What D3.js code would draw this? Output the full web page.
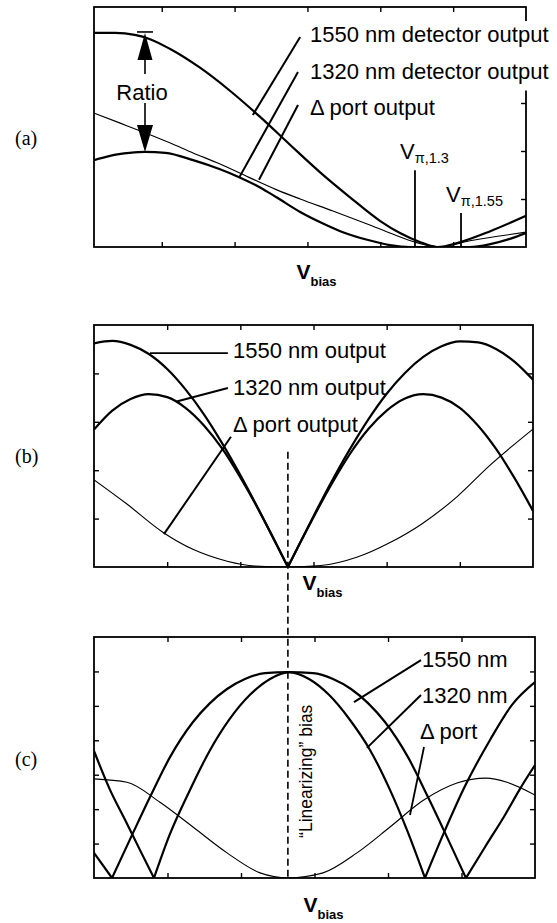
<!DOCTYPE html>
<html>
<head>
<meta charset="utf-8">
<script src="https://cdn.jsdelivr.net/npm/d3@7"></script>
<style>
  body { margin: 0; background: #fff; }
  svg { display: block; }
</style>
</head>
<body>
<div id="fig"></div>
<script>
// ---- values (x = V_bias, arbitrary units; y = output, arbitrary units)
const xTicks = [1, 2, 3, 4, 5];
const yTicksA = [1, 2, 3, 4];
const yTicksB = [1, 2, 3, 4];
const yTicksC = [1, 2, 3, 4, 5, 6];

// (a) detector outputs near the first null
const a1550 = [[0.07,4.46],[0.36,4.46],[0.63,4.42],[0.84,4.33],[1.11,4.13],[1.53,3.73],[1.94,3.25],[2.35,2.71],[2.76,2.13],[3.17,1.56],[3.58,1.04],[4.0,0.54],[4.27,0.29],[4.55,0.10],[4.78,0],[5.09,0.10],[5.51,0.33],[6.0,0.65]];
const a1320 = [[0.07,1.81],[0.29,1.90],[0.56,1.96],[0.77,1.98],[1.05,1.96],[1.43,1.81],[1.8,1.62],[2.07,1.45],[2.35,1.24],[2.58,1.03],[2.9,0.73],[3.17,0.52],[3.45,0.33],[3.82,0.15],[4.13,0.04],[4.41,0],[4.82,0],[5.23,0],[5.51,0.06],[5.78,0.17],[6.0,0.29]];
const aDelta = [[0.07,2.79],[0.43,2.58],[0.77,2.38],[1.11,2.17],[1.43,1.96],[1.8,1.73],[2.07,1.54],[2.58,1.19],[2.9,1.0],[3.35,0.75],[3.82,0.48],[4.17,0.27],[4.48,0.10],[4.82,0],[5.23,0.13],[5.64,0.23],[6.0,0.31]];

// (b) outputs with a common null
const b1550 = [
  [[0,4.62],[0.25,4.67],[0.5,4.59],[0.75,4.40],[1,4.09],[1.25,3.67],[1.5,3.16],[1.75,2.56],[2,1.90],[2.25,1.19],[2.5,0.45],[2.65,0]],
  [[2.65,0],[2.8,0.45],[3,1.05],[3.25,1.77],[3.5,2.44],[3.75,3.05],[4,3.58],[4.25,4.01],[4.5,4.34],[4.75,4.56],[5,4.66],[5.25,4.64],[5.5,4.50],[5.75,4.24],[6,3.87]]
];
const b1320 = [
  [[0,2.84],[0.25,3.23],[0.5,3.47],[0.75,3.57],[1,3.51],[1.25,3.29],[1.5,2.93],[1.75,2.45],[2,1.85],[2.25,1.18],[2.5,0.45],[2.65,0]],
  [[2.65,0],[2.8,0.45],[3,1.03],[3.25,1.72],[3.5,2.34],[3.75,2.85],[4,3.23],[4.25,3.48],[4.5,3.57],[4.75,3.50],[5,3.29],[5.25,2.92],[5.5,2.43],[5.75,1.83],[6,1.16]]
];
const bDelta = [[0,1.80],[0.45,1.30],[0.94,0.72],[1.36,0.36],[1.82,0.12],[2.2,0.02],[2.65,0],[3.1,0.03],[3.59,0.2],[4.04,0.5],[4.49,0.9],[4.96,1.45],[5.41,2.1],[6,2.85]];

// (c) outputs at the "linearizing" bias
const c1550 = [
  [[0,0.73],[0.245,0]],
  [[0.245,0],[0.531,1.31],[0.762,2.35],[1.034,3.51],[1.347,4.53],[1.578,5.08],[1.81,5.49],[2.054,5.78],[2.327,5.95],[2.639,5.98],[2.98,5.95],[3.252,5.78],[3.497,5.49],[3.728,5.08],[3.959,4.53],[4.272,3.51],[4.544,2.35],[4.776,1.31],[5.061,0]],
  [[5.061,0],[5.32,0.90],[5.592,1.83],[5.796,2.59],[6,3.28]]
];
const c1320 = [
  [[0,3.69],[0.218,2.56],[0.422,1.69],[0.626,0.81],[0.816,0]],
  [[0.816,0],[1.034,1.28],[1.293,2.50],[1.565,3.66],[1.837,4.59],[2.122,5.32],[2.395,5.78],[2.653,5.98],[2.925,5.78],[3.197,5.32],[3.483,4.59],[3.755,3.72],[4.027,2.56],[4.259,1.39],[4.503,0]],
  [[4.503,0],[4.776,1.39],[5.048,2.67],[5.388,4.01],[5.687,5.03],[6,5.69]]
];
const cDelta = [[0,2.88],[0.449,2.78],[0.898,2.2],[1.347,1.48],[1.81,0.73],[2.259,0.15],[2.639,0],[3.116,0.15],[3.578,0.73],[4.027,1.48],[4.476,2.25],[4.939,2.76],[5.333,2.90],[5.619,2.78],[6,2.41]];

const labelsA = ["1550 nm detector output", "1320 nm detector output", "\u0394 port output"];
const labelsB = ["1550 nm output", "1320 nm output", "\u0394 port output"];
const labelsC = ["1550 nm", "1320 nm", "\u0394 port"];
const vpiLabels = ["\u03c0,1.3", "\u03c0,1.55"];

// ---- layout
const W = 557, H = 923;
const sans = "'Liberation Sans', Arial, Helvetica, sans-serif";
const serif = "'Liberation Serif', 'Times New Roman', serif";
const thick = 2.2, thin = 1.15;

const panels = [
  { id: "a", box: [94, 7, 526, 247], xDomain: [0.07, 6], yDomain: [0, 5], yTicks: yTicksA, leftTicks: false, labelY: 145, titleY: 279 },
  { id: "b", box: [94, 325, 533, 567], xDomain: [0, 6], yDomain: [0, 5], yTicks: yTicksB, leftTicks: true, labelY: 463, titleY: 590 },
  { id: "c", box: [94, 637, 535, 878], xDomain: [0, 6], yDomain: [0, 7], yTicks: yTicksC, leftTicks: true, labelY: 766, titleY: 912 }
];

const svg = d3.select("#fig").append("svg")
  .attr("width", W)
  .attr("height", H)
  .attr("font-family", sans);

function styleAxis(sel) {
  sel.select(".domain").remove();
  sel.selectAll(".tick line").attr("stroke", "#000").attr("stroke-width", 1.4);
}

function drawPanel(p, series) {
  const [x0, y0, x1, y1] = p.box;
  const x = d3.scaleLinear().domain(p.xDomain).range([x0, x1]);
  const y = d3.scaleLinear().domain(p.yDomain).range([y1, y0]);
  const g = svg.append("g").attr("class", "panel-" + p.id);

  g.append("clipPath").attr("id", "clip-" + p.id)
    .append("rect").attr("x", x0).attr("y", y0).attr("width", x1 - x0).attr("height", y1 - y0);

  // inward ticks
  g.append("g").attr("transform", `translate(0,${y1})`)
    .call(d3.axisBottom(x).tickValues(xTicks).tickSize(-5).tickFormat("")).call(styleAxis);
  g.append("g").attr("transform", `translate(0,${y0})`)
    .call(d3.axisTop(x).tickValues(xTicks).tickSize(-5).tickFormat("")).call(styleAxis);
  g.append("g").attr("transform", `translate(${x1},0)`)
    .call(d3.axisRight(y).tickValues(p.yTicks).tickSize(-5).tickFormat("")).call(styleAxis);
  if (p.leftTicks) {
    g.append("g").attr("transform", `translate(${x0},0)`)
      .call(d3.axisLeft(y).tickValues(p.yTicks).tickSize(-5).tickFormat("")).call(styleAxis);
  }

  const line = d3.line().x(d => x(d[0])).y(d => y(d[1])).curve(d3.curveMonotoneX);
  const curves = g.append("g").attr("clip-path", `url(#clip-${p.id})`);
  series.forEach(s => {
    s.segs.forEach(seg => {
      curves.append("path").datum(seg)
        .attr("d", line)
        .attr("fill", "none")
        .attr("stroke", "#000")
        .attr("stroke-width", s.w)
        .attr("stroke-linejoin", "round");
    });
  });

  g.append("rect")
    .attr("x", x0).attr("y", y0)
    .attr("width", x1 - x0).attr("height", y1 - y0)
    .attr("fill", "none").attr("stroke", "#000").attr("stroke-width", 1.8);

  // panel tag
  svg.append("text")
    .attr("x", 15).attr("y", p.labelY)
    .attr("font-family", serif).attr("font-size", 20)
    .text(`(${p.id})`);

  // axis title V_bias
  const t = svg.append("text")
    .attr("x", x(2.85)).attr("y", p.titleY)
    .attr("font-weight", "bold").attr("font-size", 21);
  t.append("tspan").text("V");
  t.append("tspan").attr("font-size", 13).attr("dy", 7).text("bias");

  return { g, x, y };
}

function leader(g, x, y, pts, w) {
  g.append("line")
    .attr("x1", x(pts[0][0])).attr("y1", y(pts[0][1]))
    .attr("x2", x(pts[1][0])).attr("y2", y(pts[1][1]))
    .attr("stroke", "#000").attr("stroke-width", w || 2);
}

function labels(g, x, y, texts, xs, ys) {
  return texts.map((txt, i) => g.append("text")
    .attr("x", x(xs[i])).attr("y", y(ys[i]))
    .attr("font-size", 22)
    .text(txt));
}

// ---------- (a)
const A = drawPanel(panels[0], [
  { segs: [a1550], w: thick },
  { segs: [a1320], w: thick },
  { segs: [aDelta], w: thin }
]);
{
  const { g, x, y } = A;
  // white patch behind the first two labels (covers the frame)
  const bg = g.append("rect").attr("fill", "#fff");
  const la = labels(g, x, y, labelsA, [3.035, 3.035, 3.035], [4.27, 3.51, 2.75]);
  const b0 = la[0].node().getBBox(), b1 = la[1].node().getBBox();
  bg.attr("x", b0.x - 3).attr("y", b0.y - 1)
    .attr("width", Math.max(b0.width, b1.width) + 8)
    .attr("height", b1.y + b1.height - b0.y + 8);

  leader(g, x, y, [[2.9, 4.375], [2.25, 2.75]]);
  leader(g, x, y, [[2.87, 3.646], [2.06, 1.44]]);
  leader(g, x, y, [[2.87, 2.958], [2.335, 1.40]]);

  // ratio arrow
  const rx = x(0.77), rTop = y(4.48), rBot = y(1.98), mid = (rTop + rBot) / 2;
  g.append("line").attr("x1", rx - 8).attr("x2", rx + 8).attr("y1", rTop).attr("y2", rTop)
    .attr("stroke", "#000").attr("stroke-width", 1.6);
  g.append("path").attr("d", `M${rx},${rTop + 1}L${rx - 7.5},${rTop + 28}L${rx + 7.5},${rTop + 28}Z`);
  g.append("path").attr("d", `M${rx},${rBot}L${rx - 8},${rBot - 27}L${rx + 8},${rBot - 27}Z`);
  g.append("line").attr("x1", rx).attr("x2", rx).attr("y1", rTop + 27).attr("y2", mid - 18)
    .attr("stroke", "#000").attr("stroke-width", 1.6);
  g.append("line").attr("x1", rx).attr("x2", rx).attr("y1", mid + 11).attr("y2", rBot - 26)
    .attr("stroke", "#000").attr("stroke-width", 1.6);
  g.append("text").attr("x", rx - 3).attr("y", mid + 8)
    .attr("text-anchor", "middle").attr("font-size", 22).text("Ratio");

  // V_pi markers
  const vpiX = [4.476, 5.108], vpiTop = [1.6, 0.71];
  vpiX.forEach((vx, i) => {
    g.append("line").attr("x1", x(vx)).attr("x2", x(vx))
      .attr("y1", y(vpiTop[i])).attr("y2", y(0))
      .attr("stroke", "#000").attr("stroke-width", 1.8);
    const t = g.append("text").attr("x", x(vx) - 15).attr("y", y(vpiTop[i]) - 11).attr("font-size", 22);
    t.append("tspan").text("V");
    t.append("tspan").attr("font-size", 14.5).attr("dy", 4).text(vpiLabels[i]);
  });
}

// ---------- (b)
const B = drawPanel(panels[1], [
  { segs: b1550, w: thick },
  { segs: b1320, w: thick },
  { segs: [bDelta], w: thin }
]);
{
  const { g, x, y } = B;
  labels(g, x, y, labelsB, [1.9, 1.9, 1.9], [4.32, 3.55, 2.79]);
  leader(g, x, y, [[0.765, 4.42], [1.83, 4.42]], 1.8);
  leader(g, x, y, [[1.13, 3.42], [1.83, 3.70]]);
  leader(g, x, y, [[0.956, 0.68], [1.872, 2.69]]);
}

// ---------- (c)
const C = drawPanel(panels[2], [
  { segs: c1550, w: thick },
  { segs: c1320, w: thick },
  { segs: [cDelta], w: thin }
]);
{
  const { g, x, y } = C;
  labels(g, x, y, labelsC, [4.463, 4.463, 4.435], [6.13, 5.08, 4.04]);
  leader(g, x, y, [[4.449, 6.33], [3.537, 5.11]]);
  leader(g, x, y, [[4.449, 5.315], [3.714, 3.78]]);
  leader(g, x, y, [[4.49, 3.805], [4.299, 1.83]], 1.8);

  g.append("text")
    .attr("transform", `translate(${x(2.97)},${y(3.1)}) rotate(-90)`)
    .attr("text-anchor", "middle")
    .attr("font-size", 17.5)
    .text("\u201cLinearizing\u201d bias");
}

// dashed bias marker running from (b) down through (c)
svg.append("line")
  .attr("x1", B.x(2.65)).attr("x2", B.x(2.65))
  .attr("y1", B.y(2.38)).attr("y2", C.y(0))
  .attr("stroke", "#000").attr("stroke-width", 1.6)
  .attr("stroke-dasharray", "7,4");
</script>
</body>
</html>
